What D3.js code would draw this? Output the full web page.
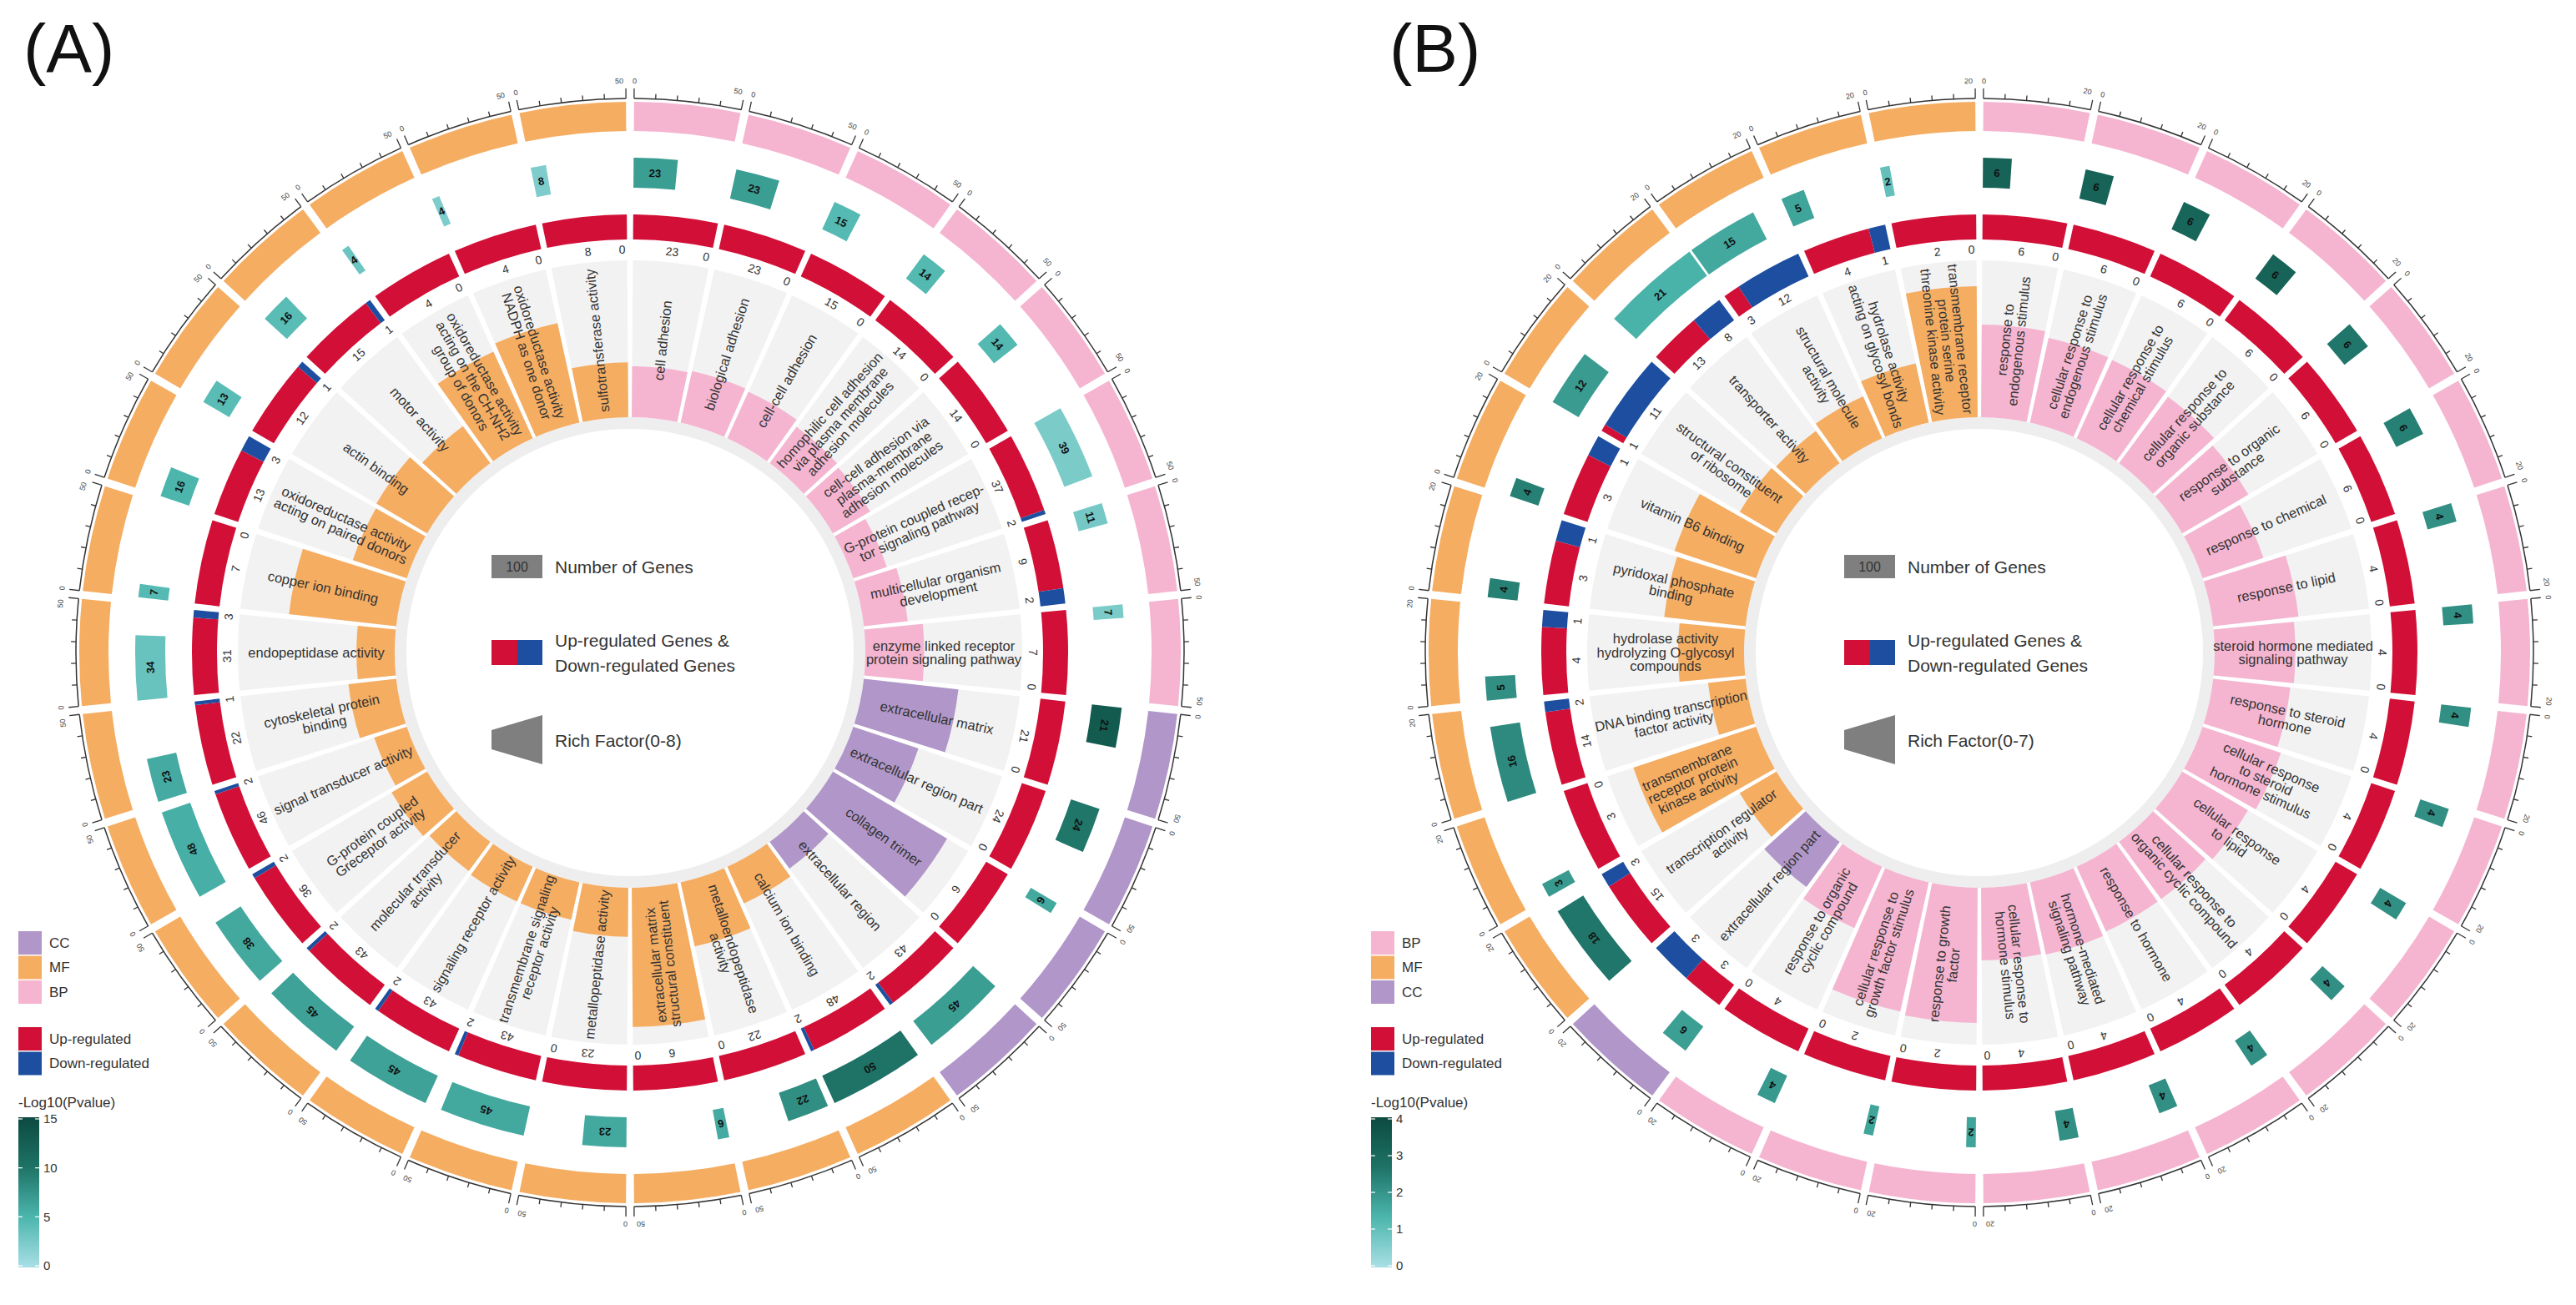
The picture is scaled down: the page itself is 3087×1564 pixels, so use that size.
<!DOCTYPE html>
<html>
<head>
<meta charset="utf-8">
<script src="https://cdn.jsdelivr.net/npm/d3@7"></script>
<style>
  body { margin: 0; background: #fff; }
  text { font-family: "Liberation Sans", Arial, sans-serif; }
</style>
</head>
<body>
<script>
// ---- Panel A data ----
const termsA = [
  "cell adhesion", "biological adhesion", "cell-cell adhesion",
  "homophilic cell adhesion|via plasma membrane|adhesion molecules",
  "cell-cell adhesion via|plasma-membrane|adhesion molecules",
  "G-protein coupled recep-|tor signaling pathway",
  "multicellular organism|development",
  "enzyme linked receptor|protein signaling pathway",
  "extracellular matrix", "extracellular region part", "collagen trimer", "extracellular region",
  "calcium ion binding", "metalloendopeptidase|activity", "extracellular matrix|structural constituent",
  "metallopeptidase activity", "transmembrane signaling|receptor activity", "signaling receptor activity",
  "molecular transducer|activity", "G-protein coupled|Greceptor activity", "signal transducer activity",
  "cytoskeletal protein|binding", "endopeptidase activity", "copper ion binding",
  "oxidoreductase activity|acting on paired donors", "actin binding", "motor activity",
  "oxidoreductase activity|acting on the CH-NH2|group of donors",
  "oxidoreductase activity|NADPH as one donor", "sulfotransferase activity"
];
const catA = ["BP","BP","BP","BP","BP","BP","BP","BP","CC","CC","CC","CC",
  "MF","MF","MF","MF","MF","MF","MF","MF","MF","MF","MF","MF","MF","MF","MF","MF","MF","MF"];
const countA = [23, 23, 15, 14, 14, 39, 11, 7, 21, 24, 6, 45, 50, 22, 6, 23, 45, 45, 45, 38, 48, 23, 34, 7, 16, 13, 16, 4, 4, 8];
const upA    = [23, 23, 15, 14, 14, 37, 9, 7, 21, 24, 6, 43, 48, 22, 6, 23, 43, 43, 43, 36, 46, 22, 31, 7, 13, 12, 15, 4, 4, 8];
const downA  = [0, 0, 0, 0, 0, 2, 2, 0, 0, 0, 0, 2, 2, 0, 0, 0, 2, 2, 2, 2, 2, 1, 3, 0, 3, 1, 1, 0, 0, 0];
const richA  = [2.6, 2.7, 2.6, 2.3, 2.2, 1.8, 2.25, 3.0, 4.85, 3.5, 6.75, 1.7, 2.05, 3.35, 7.1, 2.5, 1.95, 1.95,
  1.85, 2.1, 1.75, 2.45, 1.95, 5.5, 2.9, 3.0, 2.35, 4.85, 5.2, 2.8];
const logpA  = [6.8, 6.8, 4.5, 4.6, 4.6, 2.5, 2.8, 2.5, 13, 9.8, 6, 6.8, 10, 8, 5.8, 6, 6, 6.5, 6.5, 6, 5.5, 5.8,
  3.5, 4.5, 5, 4.3, 4.3, 3.2, 2.3, 2.3];
const pTicksA = [0, 5, 10, 15];

// ---- Panel B data ----
const termsB = [
  "response to|endogenous stimulus", "cellular response to|endogenous stimulus",
  "cellular response to|chemical stimulus", "cellular response to|organic substance",
  "response to organic|substance", "response to chemical", "response to lipid",
  "steroid hormone mediated|signaling pathway", "response to steroid|hormone",
  "cellular response|to steroid|hormone stimulus", "cellular response|to lipid",
  "cellular response to|organic cyclic compound", "response to hormone",
  "hormone-mediated|signaling pathway", "cellular response to|hormone stimulus",
  "response to growth|factor", "cellular response to|growth factor stimulus",
  "response to organic|cyclic compound", "extracellular region part",
  "transcription regulator|activity", "transmembrane|receptor protein|kinase activity",
  "DNA binding transcription|factor activity", "hydrolase activity|hydrolyzing O-glycosyl|compounds",
  "pyridoxal phosphate|binding", "vitamin B6 binding", "structural constituent|of ribosome",
  "transporter activity", "structural molecule|activity", "hydrolase activity|acting on glycosyl bonds",
  "transmembrane receptor|protein serine|threonine kinase activity"
];
const catB = ["BP","BP","BP","BP","BP","BP","BP","BP","BP","BP","BP","BP","BP","BP","BP","BP","BP","BP",
  "CC","MF","MF","MF","MF","MF","MF","MF","MF","MF","MF","MF"];
const countB = [6, 6, 6, 6, 6, 6, 4, 4, 4, 4, 4, 4, 4, 4, 4, 2, 2, 4, 6, 18, 3, 16, 5, 4, 4, 12, 21, 15, 5, 2];
const upB    = [6, 6, 6, 6, 6, 6, 4, 4, 4, 4, 4, 4, 4, 4, 4, 2, 2, 4, 3, 15, 3, 14, 4, 3, 3, 1, 13, 3, 4, 2];
const downB  = [0, 0, 0, 0, 0, 0, 0, 0, 0, 0, 0, 0, 0, 0, 0, 0, 0, 0, 3, 3, 0, 2, 1, 1, 1, 11, 8, 12, 1, 0];
const richB  = [4.13, 3.87, 3.83, 3.68, 3.42, 2.86, 3.83, 3.6, 3.46, 3.68, 3.4, 3.17, 3.17, 3.3, 3.24, 6.03, 5.9,
  3.0, 2.5, 1.9, 5.77, 1.68, 2.94, 3.65, 3.84, 1.9, 1.79, 2.05, 2.7, 5.85];
const logpB  = [3.2, 3.2, 3.1, 3.2, 2.6, 2.4, 2.1, 2.1, 2.1, 2.1, 2.1, 2.1, 2.1, 2.1, 2.1, 1.7, 1.7, 1.9, 1.8,
  2.6, 1.9, 2.2, 2.1, 2.4, 2.4, 1.85, 1.4, 1.6, 1.7, 1.0];
const pTicksB = [0, 1, 2, 3, 4];

// colours
const catColor = { BP: "#f5b5d1", MF: "#f5ad62", CC: "#b197c9" };
const upColor = "#d21037", downColor = "#1d4e9f";
const pColors = ["#a9dfe5", "#4cb6ad", "#1e7366", "#0c4a40"];

var svg = d3.select("body").append("svg")
  .attr("width", 3087)
  .attr("height", 1564);

var arc = d3.arc();
function polar(r, a) { return [r * Math.sin(a), -r * Math.cos(a)]; }
function deg(a) { return a * 180 / Math.PI; }

function drawPanel(p) {
  var g = svg.append("g").attr("transform", `translate(${p.cx},${p.cy})`);
  var n = p.terms.length;
  var idx = d3.range(n);
  var angle = d3.scaleBand().domain(idx).range([0, 2 * Math.PI])
    .paddingInner(0.07).paddingOuter(0.035);
  var bw = angle.bandwidth();
  var sx = i => d3.scaleLinear().domain([0, p.axisMax]).range([angle(i), angle(i) + bw]);
  var rich = d3.scaleLinear().domain([0, p.richMax]).range([282, 470]);
  var pMax = p.pTicks[p.pTicks.length - 1];
  var pColor = d3.scaleLinear().domain([0, pMax / 3, 2 * pMax / 3, pMax]).range(pColors);

  // inner light ring
  g.append("path")
    .attr("d", arc({ innerRadius: 268, outerRadius: 282, startAngle: 0, endAngle: 2 * Math.PI }))
    .attr("fill", "#eeeeee");

  idx.forEach(i => {
    var a0 = angle(i), a1 = a0 + bw, am = (a0 + a1) / 2;
    var s = sx(i);

    // gray background & rich factor bar
    g.append("path").attr("d", arc({ innerRadius: 282, outerRadius: 470, startAngle: a0, endAngle: a1 }))
      .attr("fill", "#f2f2f2");
    g.append("path").attr("d", arc({ innerRadius: 282, outerRadius: rich(p.rich[i]), startAngle: a0, endAngle: a1 }))
      .attr("fill", catColor[p.cat[i]]);

    // term label
    var lines = p.terms[i].split("|");
    var th = deg(am);
    var outward = ((th + p.flip) % 360) < 180;
    var rot = outward ? th - 90 : th + 90;
    var pos = polar(376, am);
    var t = g.append("text")
      .attr("transform", `translate(${pos[0]},${pos[1]}) rotate(${rot})`)
      .attr("text-anchor", "middle")
      .attr("font-size", 16.5)
      .attr("fill", "#333");
    lines.forEach((ln, k) => {
      t.append("tspan").attr("x", 0)
        .attr("y", (k - (lines.length - 1) / 2) * 16.5)
        .attr("dy", "0.35em").text(ln);
    });

    // up / down ring
    var tot = p.up[i] + p.down[i];
    var split = d3.scaleLinear().domain([0, tot]).range([a0, a1]);
    var aUp = split(p.up[i]);
    g.append("path").attr("d", arc({ innerRadius: 495, outerRadius: 525, startAngle: a0, endAngle: aUp }))
      .attr("fill", upColor);
    if (p.down[i] > 0) {
      g.append("path").attr("d", arc({ innerRadius: 495, outerRadius: 525, startAngle: aUp, endAngle: a1 }))
        .attr("fill", downColor);
    }
    var labs = [[(a0 + aUp) / 2, p.up[i]], [p.down[i] > 0 ? (aUp + a1) / 2 : a1 - 0.012, p.down[i]]];
    labs.forEach(l => {
      var q = polar(483, l[0]);
      g.append("text")
        .attr("transform", `translate(${q[0]},${q[1]}) rotate(${deg(l[0])})`)
        .attr("text-anchor", "middle").attr("dy", "0.35em")
        .attr("font-size", 14).attr("fill", "#333")
        .text(l[1]);
    });

    // count box coloured by -log10(p)
    var b0 = s(0), b1 = s(p.count[i]);
    g.append("path").attr("d", arc({ innerRadius: 557, outerRadius: 593, startAngle: b0, endAngle: b1 }))
      .attr("fill", pColor(p.logp[i]));
    var bm = (b0 + b1) / 2, bq = polar(575, bm);
    g.append("text")
      .attr("transform", `translate(${bq[0]},${bq[1]}) rotate(${deg(bm)})`)
      .attr("text-anchor", "middle").attr("dy", "0.35em")
      .attr("font-size", 13).attr("font-weight", "bold").attr("fill", "#111")
      .text(p.count[i]);

    // outer category ring
    g.append("path").attr("d", arc({ innerRadius: 625, outerRadius: 660, startAngle: a0, endAngle: a1 }))
      .attr("fill", catColor[p.cat[i]]);

    // axis
    g.append("path").attr("d", arc({ innerRadius: 664, outerRadius: 664, startAngle: a0, endAngle: a1 }))
      .attr("fill", "none").attr("stroke", "#333").attr("stroke-width", 1.5);
    d3.range(0, p.axisMax + 0.001, p.tickStep).forEach(v => {
      var a = s(v);
      var major = v === 0 || v === p.axisMax;
      var r0 = polar(664, a), r1 = polar(major ? 676 : 670, a);
      g.append("line").attr("x1", r0[0]).attr("y1", r0[1]).attr("x2", r1[0]).attr("y2", r1[1])
        .attr("stroke", "#333").attr("stroke-width", 1.3);
      if (major) {
        var lq = polar(685, a);
        g.append("text")
          .attr("transform", `translate(${lq[0]},${lq[1]}) rotate(${deg(a)})`)
          .attr("text-anchor", v === 0 ? "start" : "end")
          .attr("x", v === 0 ? -2 : -3)
          .attr("dy", "0.35em")
          .attr("font-size", 9).attr("fill", "#444")
          .text(v);
      }
    });
  });

  // center legend
  var c = svg.append("g");
  c.append("rect").attr("x", p.lx).attr("y", 665).attr("width", 61).attr("height", 28).attr("fill", "#7f7f7f");
  c.append("text").attr("x", p.lx + 30.5).attr("y", 679).attr("dy", "0.35em").attr("text-anchor", "middle")
    .attr("font-size", 16).attr("fill", "#333").text("100");
  c.append("text").attr("x", p.lx + 76).attr("y", 680).attr("dy", "0.35em")
    .attr("font-size", 21).attr("fill", "#333").text("Number of Genes");
  c.append("rect").attr("x", p.lx).attr("y", 767).attr("width", 31).attr("height", 30).attr("fill", upColor);
  c.append("rect").attr("x", p.lx + 31).attr("y", 767).attr("width", 30).attr("height", 30).attr("fill", downColor);
  c.append("text").attr("x", p.lx + 76).attr("y", 768).attr("dy", "0.35em")
    .attr("font-size", 21).attr("fill", "#333").text("Up-regulated Genes &");
  c.append("text").attr("x", p.lx + 76).attr("y", 798).attr("dy", "0.35em")
    .attr("font-size", 21).attr("fill", "#333").text("Down-regulated Genes");
  c.append("path")
    .attr("d", `M${p.lx},875 L${p.lx + 61},857 L${p.lx + 61},916 L${p.lx},898 Z`)
    .attr("fill", "#7f7f7f");
  c.append("text").attr("x", p.lx + 76).attr("y", 888).attr("dy", "0.35em")
    .attr("font-size", 21).attr("fill", "#333").text(`Rich Factor(0-${p.richMax})`);

  // left legend
  var L = svg.append("g").attr("transform", `translate(${p.kx},0)`);
  p.legendCats.forEach((k, j) => {
    L.append("rect").attr("x", 0).attr("y", 1116 + j * 29.5).attr("width", 28).attr("height", 28)
      .attr("fill", catColor[k]);
    L.append("text").attr("x", 37).attr("y", 1130 + j * 29.5).attr("dy", "0.35em")
      .attr("font-size", 17).attr("fill", "#333").text(k);
  });
  [["Up-regulated", upColor], ["Down-regulated", downColor]].forEach((d, j) => {
    L.append("rect").attr("x", 0).attr("y", 1231 + j * 29.5).attr("width", 28).attr("height", 28).attr("fill", d[1]);
    L.append("text").attr("x", 37).attr("y", 1245 + j * 29.5).attr("dy", "0.35em")
      .attr("font-size", 17).attr("fill", "#333").text(d[0]);
  });
  L.append("text").attr("x", 0).attr("y", 1321).attr("dy", "0.35em")
    .attr("font-size", 17).attr("fill", "#333").text("-Log10(Pvalue)");
  var gid = "grad" + p.name;
  var grad = svg.append("defs").append("linearGradient").attr("id", gid)
    .attr("x1", 0).attr("y1", 1).attr("x2", 0).attr("y2", 0);
  pColors.forEach((col, j) => grad.append("stop").attr("offset", j / 3).attr("stop-color", col));
  var cy = d3.scaleLinear().domain([0, pMax]).range([1517, 1341]);
  L.append("rect").attr("x", 0).attr("y", 1339).attr("width", 25).attr("height", 180).attr("fill", `url(#${gid})`);
  p.pTicks.forEach(v => {
    L.append("line").attr("x1", 0).attr("x2", 5).attr("y1", cy(v)).attr("y2", cy(v)).attr("stroke", "#fff").attr("stroke-width", 1.2);
    L.append("line").attr("x1", 20).attr("x2", 25).attr("y1", cy(v)).attr("y2", cy(v)).attr("stroke", "#fff").attr("stroke-width", 1.2);
    L.append("text").attr("x", 30).attr("y", cy(v)).attr("dy", "0.35em")
      .attr("font-size", 15).attr("fill", "#333").text(v);
  });

  // panel title
  svg.append("text").attr("x", p.tx).attr("y", 86).attr("font-size", 82).attr("fill", "#111").text(p.title);
}

drawPanel({
  name: "A", title: "(A)", tx: 28, cx: 755, cy: 782, lx: 589, kx: 22,
  terms: termsA, cat: catA, count: countA, up: upA, down: downA, rich: richA, logp: logpA,
  pTicks: pTicksA, axisMax: 50, tickStep: 10, richMax: 8, flip: 12,
  legendCats: ["CC", "MF", "BP"]
});
drawPanel({
  name: "B", title: "(B)", tx: 1665, cx: 2372, cy: 782, lx: 2210, kx: 1643,
  terms: termsB, cat: catB, count: countB, up: upB, down: downB, rich: richB, logp: logpB,
  pTicks: pTicksB, axisMax: 20, tickStep: 4, richMax: 7, flip: 0,
  legendCats: ["BP", "MF", "CC"]
});
</script>
</body>
</html>
